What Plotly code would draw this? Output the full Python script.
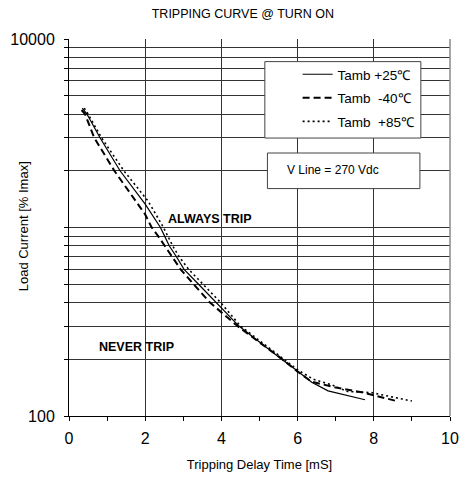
import plotly.graph_objects as go

# ---- data ----
series_names = ["Tamb +25\u2103", "Tamb  -40\u2103", "Tamb  +85\u2103"]

time_25 = [0.35, 0.47, 0.81, 1.34, 2.0, 2.40, 2.51, 2.63, 2.82, 3.02, 3.40, 3.87, 4.46, 5.58, 5.99, 6.37, 6.80, 7.77]
load_25 = [4300, 4000, 3000, 2000, 1330, 1000, 900, 800, 700, 600, 500, 400, 300, 200, 174, 151, 136, 122]

time_m40 = [0.33, 0.42, 0.66, 1.19, 2.0, 2.17, 2.34, 2.51, 2.72, 2.93, 3.27, 3.70, 4.42, 5.6, 6.0, 6.37, 6.97, 7.73, 8.6]
load_m40 = [4200, 4000, 3000, 2000, 1172, 1000, 900, 800, 700, 600, 500, 400, 300, 200, 172, 152, 142, 133, 120]

time_85 = [0.40, 0.50, 0.85, 1.44, 2.08, 2.48, 2.72, 2.89, 3.14, 3.53, 3.98, 4.5, 5.65, 6.0, 6.4, 6.9, 7.31, 7.94, 8.75, 9.0]
load_85 = [4300, 4000, 3000, 2000, 1377, 1000, 800, 700, 600, 500, 400, 300, 200, 176, 157, 146, 135, 133, 123, 120]

x_tick_vals = [0, 2, 4, 6, 8, 10]
x_tick_text = ["0", "2", "4", "6", "8", "10"]
y_grid_vals = [100, 200, 300, 400, 500, 600, 700, 800, 900,
               1000, 2000, 3000, 4000, 5000, 6000, 7000, 8000, 9000, 10000]
y_tick_text = ["100"] + [""] * 17 + ["10000"]

title_text = "TRIPPING CURVE @ TURN ON"
x_title = "Tripping Delay Time [mS]"
y_title = "Load Current [% Imax]"
always_text = "ALWAYS TRIP"
never_text = "NEVER TRIP"
vline_text = "V Line = 270 Vdc"

FONT = "Arial, Liberation Sans, sans-serif"

fig = go.Figure()
fig.add_trace(go.Scatter(x=time_25, y=load_25, mode="lines", name=series_names[0],
                         legendgroup="a", line=dict(color="black", width=1.2)))
fig.add_trace(go.Scatter(x=time_m40, y=load_m40, mode="lines", name=series_names[1],
                         legendgroup="b", line=dict(color="black", width=2, dash="7px,4px")))
fig.add_trace(go.Scatter(x=time_85, y=load_85, mode="lines", name=series_names[2],
                         legendgroup="c", line=dict(color="black", width=1.6, dash="2px,3px")))

fig.update_layout(
    width=469, height=479,
    margin=dict(l=67, r=10, t=39, b=62),
    paper_bgcolor="white", plot_bgcolor="white",
    font=dict(family=FONT, color="black"),
    title=dict(text=title_text, x=0.518, xanchor="center", y=0.971, yanchor="middle",
               font=dict(size=12.5, family=FONT, color="black")),
    showlegend=True,
    legend=dict(x=0.6, xanchor="left", y=0.947, yanchor="top",
                bgcolor="rgba(0,0,0,0)", borderwidth=0,
                font=dict(size=13.5, family=FONT, color="black"),
                tracegroupgap=3, itemwidth=30),
    xaxis=dict(range=[0, 10], tickmode="array", tickvals=x_tick_vals, ticktext=x_tick_text,
               showgrid=True, gridcolor="#333333", gridwidth=1,
               showline=True, linecolor="black", linewidth=1,
               ticks="outside", ticklen=4, tickcolor="black",
               minor=dict(dtick=1, ticks="outside", ticklen=4, tickcolor="black", showgrid=False),
               tickfont=dict(size=16, family=FONT, color="black"),
               ticklabelstandoff=4, zeroline=False,
               title=dict(text=x_title, font=dict(size=13, family=FONT, color="black"), standoff=13)),
    yaxis=dict(type="log", range=[2, 4], tickmode="array", tickvals=y_grid_vals, ticktext=y_tick_text,
               showgrid=True, gridcolor="#333333", gridwidth=1,
               showline=True, linecolor="black", linewidth=1,
               ticks="outside", ticklen=4, tickcolor="black",
               tickfont=dict(size=16, family=FONT, color="black"),
               ticklabelstandoff=6, zeroline=False),
)

shapes = [
    # right frame edge
    dict(type="line", xref="paper", yref="paper", x0=1, x1=1, y0=0, y1=1,
         line=dict(color="#8a8a8a", width=1.5), layer="above"),
    # legend box
    dict(type="rect", xref="paper", yref="paper", x0=0.514, x1=0.9235, y0=0.7373, y1=0.94,
         line=dict(color="#444444", width=1), fillcolor="white", layer="above"),
    # V line box
    dict(type="rect", xref="paper", yref="paper", x0=0.5208, x1=0.921, y0=0.6032, y1=0.6976,
         line=dict(color="#444444", width=1), fillcolor="white", layer="above"),
]
fig.update_layout(shapes=shapes)

annotations = [
    dict(text=y_title, xref="paper", yref="paper", x=-0.1173, y=0.504, textangle=-90,
         showarrow=False, xanchor="center", yanchor="middle",
         font=dict(size=13, family=FONT, color="black")),
    dict(text="<b>" + always_text + "</b>", xref="paper", yref="paper", x=0.2557, y=0.5238,
         showarrow=False, xanchor="left", yanchor="middle",
         font=dict(size=12.5, family=FONT, color="black")),
    dict(text="<b>" + never_text + "</b>", xref="paper", yref="paper", x=0.0747, y=0.1825,
         showarrow=False, xanchor="left", yanchor="middle",
         font=dict(size=12.5, family=FONT, color="black")),
    dict(text=vline_text, xref="paper", yref="paper", x=0.5667, y=0.6534,
         showarrow=False, xanchor="left", yanchor="middle",
         font=dict(size=12, family=FONT, color="black")),
]
fig.update_layout(annotations=annotations)

fig.write_html("out.html", config={"displayModeBar": False},
               post_script="document.body.style.margin='0';document.body.style.padding='0';")
